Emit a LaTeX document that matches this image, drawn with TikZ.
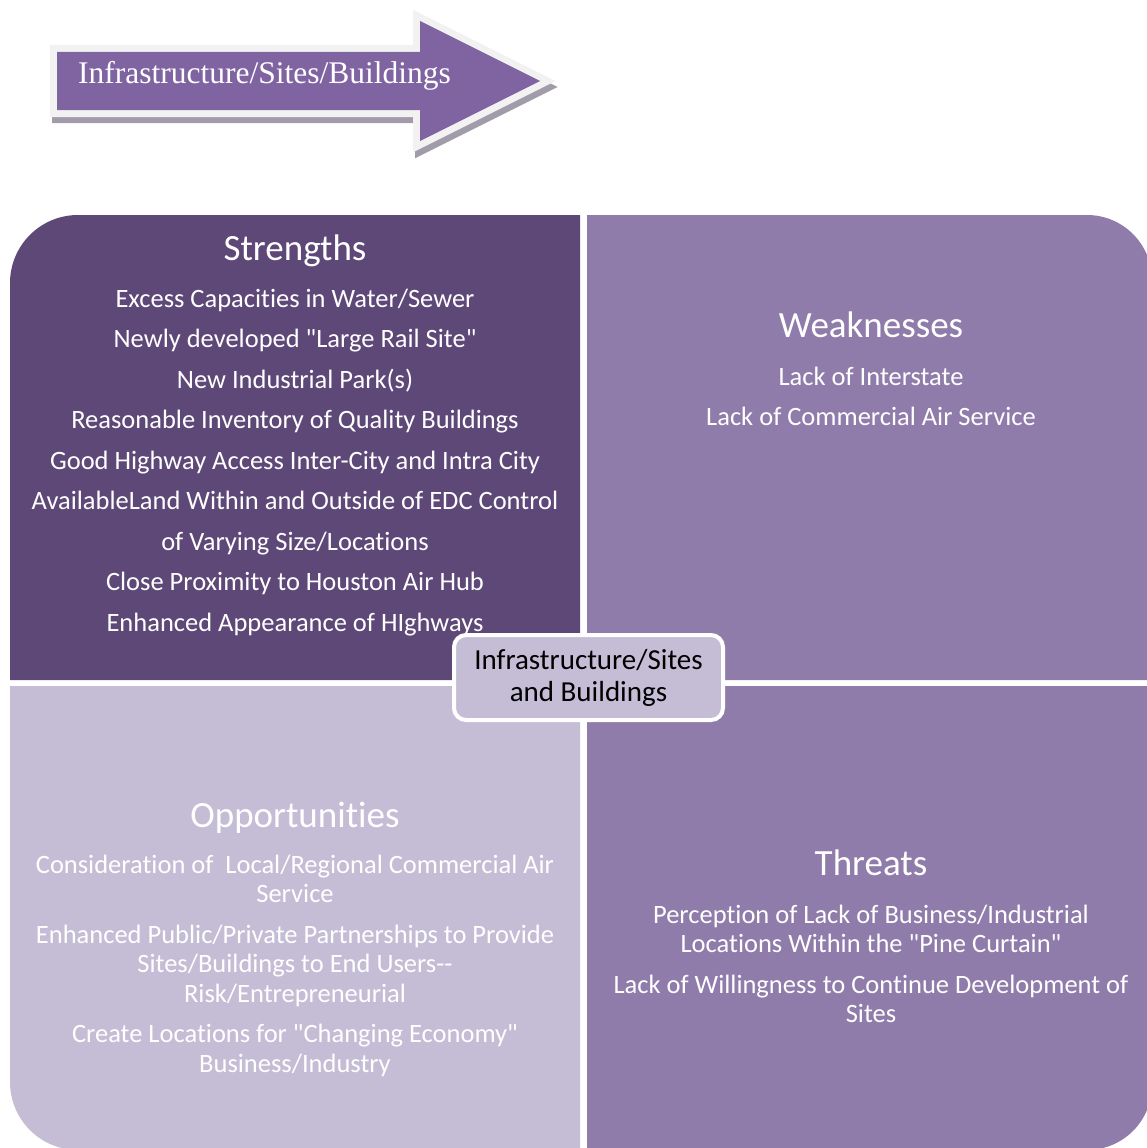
\documentclass[tikz,border=0pt]{standalone}
\usepackage{fontspec}
\setmainfont{Carlito}[Ligatures={TeXOff,NoCommon}]
\newfontfamily\bannerfont{Liberation Serif}
\usetikzlibrary{positioning}
\definecolor{strclr}{HTML}{5E4878}
\definecolor{wkclr}{HTML}{8F7CAA}
\definecolor{oppclr}{HTML}{C5BDD5}
\definecolor{arrclr}{HTML}{8064A2}
\definecolor{rimclr}{HTML}{F2F2F2}
\definecolor{shdclr}{HTML}{A29BAA}
% lines stacked from the first baseline down
\newcommand\swotlines[1]{\begin{tabular}[t]{@{}c@{}}#1\end{tabular}}

\begin{document}
\begin{tikzpicture}[x=1pt,y=-1pt,
  hdr/.style={text=white, anchor=base, inner sep=0pt, font=\fontsize{37}{44}\selectfont},
  itm/.style={text=white, anchor=base, inner sep=0pt, font=\fontsize{26.5}{29.5}\selectfont},
  hubbox/.style={draw=white, line width=4pt, fill=oppclr, rounded corners=12pt,
    minimum width=269pt, minimum height=85pt, align=center, text=black,
    font=\fontsize{29}{32}\selectfont}]
\useasboundingbox (0,0) rectangle (1147,1148);

% banner arrow
\filldraw[shdclr, line width=14pt, line join=miter, xshift=2pt, yshift=-6pt]
  (57,52) -- (420,52) -- (420,21) -- (540,81) -- (420,141) -- (420,110) -- (57,110) -- cycle;
\filldraw[rimclr, line width=14pt, line join=miter]
  (57,52) -- (420,52) -- (420,21) -- (540,81) -- (420,141) -- (420,110) -- (57,110) -- cycle;
\fill[arrclr]
  (57,52) -- (420,52) -- (420,21) -- (540,81) -- (420,141) -- (420,110) -- (57,110) -- cycle;
\node[anchor=base west, inner sep=0pt, text=white, font=\bannerfont\fontsize{31.5}{36}\selectfont]
  (banner) at (78,84) {Infrastructure/Sites/Buildings};

% quadrants
\fill[strclr] (580,680) -- (10,680) -- (10,283) arc[start angle=180, end angle=90, radius=68pt] -- (580,215) -- cycle;
\fill[wkclr] (587,680) -- (587,215) -- (1087,215) arc[start angle=90, end angle=0, radius=65pt] -- (1152,680) -- cycle;
\fill[oppclr] (580,686) -- (10,686) -- (10,1082) arc[start angle=180, end angle=270, radius=68pt] -- (580,1150) -- cycle;
\fill[wkclr] (587,686) -- (1152,686) -- (1152,1085) arc[start angle=0, end angle=-90, radius=65pt] -- (587,1150) -- cycle;

% strengths
\node[hdr] (strhdr) at (295,260) {Strengths};
\node[itm] (stritm) at (295,307) {\swotlines{Excess Capacities in Water/Sewer\\[11pt]
  Newly developed "Large Rail Site"\\[11pt]
  New Industrial Park(s)\\[11pt]
  Reasonable Inventory of Quality Buildings\\[11pt]
  Good Highway Access Inter-City and Intra City\\[11pt]
  AvailableLand Within and Outside of EDC Control\\[11pt]
  of Varying Size/Locations\\[11pt]
  Close Proximity to Houston Air Hub\\[11pt]
  Enhanced Appearance of HIghways}};

% weaknesses
\node[hdr] (wkhdr) at (871,337) {Weaknesses};
\node[itm] (wkitm) at (871,385) {\swotlines{Lack of Interstate\\[11pt]
  Lack of Commercial Air Service}};

% opportunities
\node[hdr] (opphdr) at (295,827) {Opportunities};
\node[itm] (oppitm) at (295,873) {\swotlines{Consideration of\ \ Local/Regional Commercial Air\\Service\\[11pt]
  Enhanced Public/Private Partnerships to Provide\\Sites/Buildings to End Users-{}-\\Risk/Entrepreneurial\\[11pt]
  Create Locations for "Changing Economy"\\Business/Industry}};

% threats
\node[hdr] (thrhdr) at (871,875) {Threats};
\node[itm] (thritm) at (871,923) {\swotlines{Perception of Lack of Business/Industrial\\Locations Within the "Pine Curtain"\\[11pt]
  Lack of Willingness to Continue Development of\\Sites}};

% centre
\node[hubbox] (hub) at (588.5,677.5) {Infrastructure/Sites\\and Buildings};
\end{tikzpicture}
\end{document}
